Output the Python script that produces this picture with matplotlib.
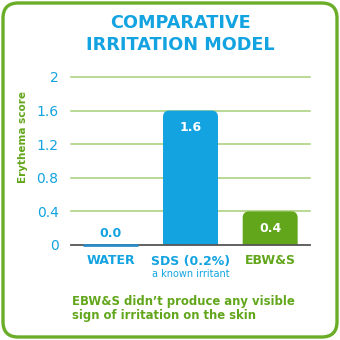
import matplotlib
matplotlib.use("Agg")
import matplotlib.pyplot as plt
from matplotlib.patches import FancyBboxPatch

categories = ["WATER", "SDS (0.2%)", "EBW&S"]
sublabels = ["", "a known irritant", ""]
values = [0.0, 1.6, 0.4]
yticks = [0, 0.4, 0.8, 1.2, 1.6, 2]
ytick_labels = ["0", "0.4", "0.8", "1.2", "1.6", "2"]

BLUE = "#12a3e0"
DARKBLUE = "#2a8cc6"
GREEN = "#62a61b"
GRID = "#a8d078"
bar_colors = [DARKBLUE, BLUE, GREEN]
label_colors = [BLUE, BLUE, GREEN]

W, H = 340, 340
fig = plt.figure(figsize=(W / 100, H / 100), dpi=100)
fig.patch.set_facecolor("white")

# rounded frame
frame = FancyBboxPatch((3 / W, 3 / H), 334 / W, 334 / H,
                       boxstyle="round,pad=0,rounding_size=0.045",
                       transform=fig.transFigure, fill=False,
                       ec="#6aad28", lw=2.4)
fig.add_artist(frame)

fig.text(180 / W, 1 - 23 / H, "COMPARATIVE", color=BLUE, fontsize=12.7,
         fontweight="bold", ha="center", va="center")
fig.text(180 / W, 1 - 45 / H, "IRRITATION MODEL", color=BLUE, fontsize=12.7,
         fontweight="bold", ha="center", va="center")

ax = fig.add_axes([71 / W, 95 / H, 239 / W, 168 / H])
ax.set_xlim(-0.5, 2.5)
ax.set_ylim(0, 2)
for s in ax.spines.values():
    s.set_visible(False)
ax.set_yticks(yticks)
ax.set_yticklabels(ytick_labels)
ax.tick_params(axis="y", length=0, pad=9, labelcolor=BLUE, labelsize=10)
ax.set_xticks([])
for t in yticks[1:]:
    ax.axhline(t, color=GRID, lw=1.1, zorder=1, clip_on=False)

bars = ax.bar(range(len(values)), values, width=0.69, color="none")
xpx = 3 / 239
ypx = 2 / 168
for i, (b, v) in enumerate(zip(bars, values)):
    x0, w = b.get_x(), b.get_width()
    if v <= 0:
        ax.plot([x0, x0 + w], [0.0, 0.0], color=bar_colors[i], lw=2,
                solid_capstyle="butt", zorder=6, clip_on=False)
        ax.text(i, v + 0.14, f"{v:.1f}", color=BLUE, fontsize=9,
                fontweight="bold", ha="center", va="center", zorder=4)
        continue
    p = FancyBboxPatch((x0, -0.3), w, v + 0.3,
                       boxstyle="round,pad=0,rounding_size=0.08",
                       mutation_aspect=ypx / xpx, fc=bar_colors[i], ec="none",
                       zorder=3, clip_on=True)
    ax.add_patch(p)
    ax.text(i, v - 0.2, f"{v:.1f}", color="white", fontsize=9,
            fontweight="bold", ha="center", va="center", zorder=4)

ax.axhline(0, color="#555555", lw=1.3, zorder=5, clip_on=False)

for i, (c, s) in enumerate(zip(categories, sublabels)):
    ax.annotate(c, (i, 0), xytext=(0, -16), textcoords="offset pixels",
                color=label_colors[i], fontsize=9, fontweight="bold",
                ha="center", va="center", annotation_clip=False)
    if s:
        ax.annotate(s, (i, 0), xytext=(0, -29), textcoords="offset pixels",
                    color=label_colors[i], fontsize=7, ha="center", va="center",
                    annotation_clip=False)

fig.text(23 / W, 1 - 137 / H, "Erythema score", color=GREEN, fontsize=7.5,
         fontweight="bold", rotation=90, ha="center", va="center")

fig.text(72 / W, 1 - 302 / H, "EBW&S didn\u2019t produce any visible", color=GREEN,
         fontsize=8.4, fontweight="bold", ha="left", va="center")
fig.text(72 / W, 1 - 316 / H, "sign of irritation on the skin", color=GREEN,
         fontsize=8.4, fontweight="bold", ha="left", va="center")

fig.savefig("out.png", dpi=100, facecolor="white")
